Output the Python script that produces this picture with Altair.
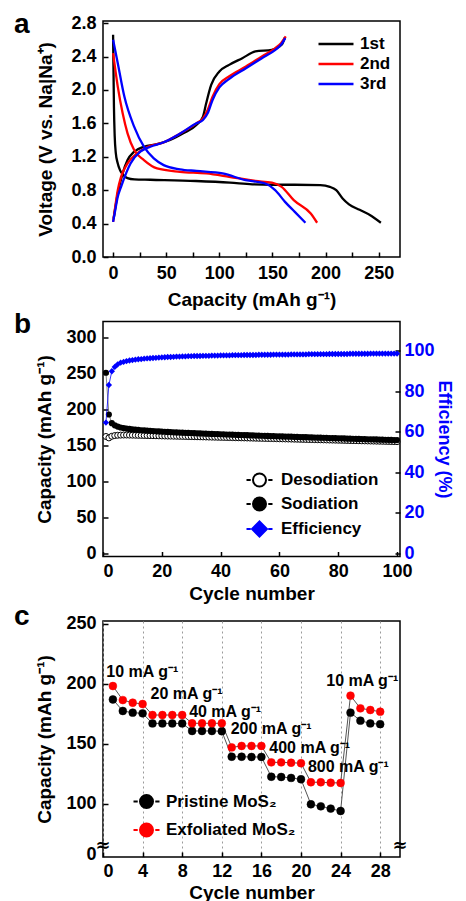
import altair as alt
import pandas as pd

FONT = "Liberation Sans"

# ---------------- panel a : voltage profiles ----------------
cycles_a = ["1st", "2nd", "3rd"]
colors_a = ["#000000", "#ff0000", "#0000ff"]

dis1_cap = [0, 0.3, 0.8, 1.5, 2.5, 4.4, 6.5, 9, 13.5, 20, 35, 78, 110, 131, 150, 171, 195, 204, 210, 216, 222, 232, 242, 252]
dis1_v = [2.66, 2.3, 1.8, 1.45, 1.25, 1.12, 1.04, 0.99, 0.945, 0.93, 0.925, 0.91, 0.89, 0.87, 0.865, 0.865, 0.86, 0.84, 0.8, 0.7, 0.63, 0.565, 0.5, 0.41]
cha1_cap = [0.5, 4.4, 9, 13.6, 19.8, 29, 41.4, 53.7, 66, 78.4, 84.6, 87.6, 92.3, 100, 109.2, 121.6, 133.9, 149.4, 158.6, 161.7]
cha1_v = [0.46, 0.76, 1.0, 1.16, 1.26, 1.32, 1.35, 1.4, 1.48, 1.58, 1.68, 1.84, 2.06, 2.22, 2.3, 2.38, 2.46, 2.48, 2.54, 2.63]

dis2_cap = [0, 4.4, 9, 13.6, 19.8, 29, 41.4, 62.9, 87.6, 109.2, 133.9, 149.4, 158.6, 170, 186, 192]
dis2_v = [2.44, 2.04, 1.72, 1.48, 1.28, 1.16, 1.06, 1.02, 1.0, 0.96, 0.91, 0.89, 0.84, 0.68, 0.52, 0.41]
cha2_cap = [0, 2, 4.4, 7.5, 13.6, 22.6, 35, 47, 62, 78.4, 84.6, 89, 93.6, 100, 109, 125, 140, 152.7, 158, 162.5]
cha2_v = [0.42, 0.6, 0.8, 0.96, 1.12, 1.24, 1.33, 1.37, 1.47, 1.6, 1.66, 1.76, 1.92, 2.07, 2.16, 2.28, 2.4, 2.5, 2.56, 2.64]

dis3_cap = [0, 4.4, 10.6, 19.8, 29, 38.3, 47.6, 62.9, 78.4, 103.1, 124.7, 143.2, 152.5, 161.8, 171, 181]
dis3_v = [2.6, 2.32, 1.92, 1.56, 1.32, 1.18, 1.1, 1.05, 1.03, 1.0, 0.92, 0.88, 0.8, 0.66, 0.54, 0.41]
cha3_cap = [0, 2, 4.4, 7.5, 16.4, 25.6, 35, 47, 62, 78.4, 84.6, 89, 93.6, 100, 109, 125, 140, 152.7, 158, 162]
cha3_v = [0.42, 0.56, 0.72, 0.84, 1.12, 1.26, 1.32, 1.37, 1.47, 1.6, 1.64, 1.72, 1.88, 2.03, 2.13, 2.26, 2.38, 2.48, 2.54, 2.62]

rows = []
for name, branches in [
    ("1st", [("d", dis1_cap, dis1_v), ("c", cha1_cap, cha1_v)]),
    ("2nd", [("d", dis2_cap, dis2_v), ("c", cha2_cap, cha2_v)]),
    ("3rd", [("d", dis3_cap, dis3_v), ("c", cha3_cap, cha3_v)]),
]:
    for br, caps, vs in branches:
        for i, (c, v) in enumerate(zip(caps, vs)):
            rows.append({"cycle": name, "seg": name + br, "i": i, "cap": c, "v": v})
df_a = pd.DataFrame(rows)

# ---------------- panel b : cycling ----------------
sodiation = [251, 193, 181, 178, 176.2, 175, 174.2, 173.5, 173, 172.4,
             172, 171.6, 171.2, 170.9, 170.6, 170.3, 170, 169.8, 169.5, 169.3,
             169.1, 168.8, 168.6, 168.4, 168.2, 168, 167.8, 167.6, 167.5, 167.3,
             167.1, 166.9, 166.8, 166.6, 166.4, 166.3, 166.1, 166, 165.8, 165.6,
             165.5, 165.3, 165.2, 165, 164.9, 164.7, 164.6, 164.4, 164.3, 164.1,
             164, 163.8, 163.7, 163.5, 163.4, 163.3, 163.1, 163, 162.8, 162.7,
             162.6, 162.4, 162.3, 162.2, 162, 161.9, 161.8, 161.6, 161.5, 161.4,
             161.2, 161.1, 161, 160.8, 160.7, 160.6, 160.4, 160.3, 160.2, 160,
             159.9, 159.8, 159.6, 159.5, 159.4, 159.2, 159.1, 159, 158.9, 158.7,
             158.6, 158.5, 158.4, 158.2, 158.1, 158, 157.9, 157.7, 157.6, 157.5]
desodiation = [162.5, 160.5, 162.8, 163.8, 164.2, 164.4, 164.5, 164.5, 164.4, 164.3,
               164.2, 164.1, 164, 163.9, 163.8, 163.7, 163.6, 163.5, 163.4, 163.3,
               163.2, 163.1, 163, 162.9, 162.8, 162.7, 162.6, 162.5, 162.4, 162.3,
               162.2, 162.1, 162, 161.9, 161.8, 161.7, 161.6, 161.5, 161.4, 161.3,
               161.2, 161.1, 161, 160.9, 160.8, 160.7, 160.6, 160.5, 160.4, 160.3,
               160.2, 160.1, 160, 159.9, 159.8, 159.7, 159.6, 159.5, 159.4, 159.3,
               159.2, 159.1, 159, 158.9, 158.8, 158.7, 158.6, 158.5, 158.4, 158.3,
               158.2, 158.1, 158, 157.9, 157.8, 157.7, 157.6, 157.5, 157.4, 157.3,
               157.2, 157.1, 157, 156.9, 156.8, 156.7, 156.6, 156.5, 156.4, 156.3,
               156.2, 156.1, 156, 155.9, 155.8, 155.7, 155.6, 155.5, 155.4, 155.3]
efficiency = [64.5, 83, 89.8, 91.9, 93.2, 94, 94.4, 94.8, 95.1, 95.3,
              95.5, 95.7, 95.8, 96, 96.1, 96.2, 96.3, 96.4, 96.5, 96.6,
              96.7, 96.8, 96.8, 96.9, 97, 97, 97.1, 97.1, 97.2, 97.2,
              97.3, 97.3, 97.3, 97.4, 97.4, 97.4, 97.5, 97.5, 97.5, 97.6,
              97.6, 97.6, 97.6, 97.7, 97.7, 97.7, 97.7, 97.8, 97.8, 97.8,
              97.8, 97.8, 97.9, 97.9, 97.9, 97.9, 97.9, 98, 98, 98,
              98, 98, 98, 98.1, 98.1, 98.1, 98.1, 98.1, 98.1, 98.2,
              98.2, 98.2, 98.2, 98.2, 98.2, 98.2, 98.3, 98.3, 98.3, 98.3,
              98.3, 98.3, 98.3, 98.4, 98.4, 98.4, 98.4, 98.4, 98.4, 98.4,
              98.5, 98.5, 98.5, 98.5, 98.5, 98.5, 98.5, 98.5, 98.5, 98.5]
cycle_b = list(range(1, 101))
df_b = pd.DataFrame({"cycle": cycle_b, "sod": sodiation, "des": desodiation, "eff": efficiency})
series_b = ["Desodiation", "Sodiation", "Efficiency"]

# ---------------- panel c : rate ----------------
cycle_c = list(range(1, 29))
pristine = [187, 177.4, 176, 175.4, 167, 167, 167, 167, 160.7, 160.7, 160.7, 160.5,
            139.2, 139.2, 139, 139, 122.5, 122.3, 121.5, 120.4, 99.5, 97.8, 95.9, 93.9,
            176, 169.3, 167, 166.4]
exfoliated = [198.2, 186.5, 184.3, 183.2, 174, 174, 174, 174, 167.1, 167.1, 167.1, 167.1,
              147, 148.2, 148.2, 148.2, 134.5, 134.5, 134.2, 133.8, 117.9, 117.9, 117.5, 117.3,
              190.2, 179.6, 178.2, 176.8]
series_c = ["Pristine MoS\u2082", "Exfoliated MoS\u2082"]
df_c = pd.DataFrame({
    "cycle": cycle_c * 2,
    "cap": pristine + exfoliated,
    "s": [series_c[0]] * 28 + [series_c[1]] * 28,
})
ann_text = ["10 mA g\u207b\u00b9", "20 mA g\u207b\u00b9", "40 mA g\u207b\u00b9", "200 mA g\u207b\u00b9",
            "400 mA g\u207b\u00b9", "800 mA g\u207b\u00b9", "10 mA g\u207b\u00b9"]
ann_cycle = [0.33, 4.8, 8.7, 12.9, 16.8, 20.7, 22.55]
ann_cap = [210.2, 191.6, 176.8, 162.3, 146.2, 130.9, 202.7]
df_ann = pd.DataFrame({"t": ann_text, "x": ann_cycle, "y": ann_cap})
brk_x = [0, 30]
brk_y = [65, 65]
df_brk = pd.DataFrame({"x": brk_x, "y": brk_y, "t": ["\u2248", "\u2248"]})

# ---------------- common styling ----------------
TICK_IN = alt.ExprRef(expr="-5")


def ax(**kw):
    base = dict(labelFont=FONT, labelFontSize=18, labelFontWeight="bold", labelColor="black",
                titleFont=FONT, titleFontSize=19, titleFontWeight="bold", titleColor="black",
                domain=False, tickColor="black", tickWidth=1.5, tickSize=TICK_IN,
                labelPadding=12, grid=False)
    base.update(kw)
    return alt.Axis(**base)


def letter(t, dy):
    return alt.Chart(pd.DataFrame({"t": [t]})).mark_text(
        align="left", baseline="alphabetic", font=FONT, fontSize=28, fontWeight="bold", color="black"
    ).encode(text="t:N", x=alt.value(-89), y=alt.value(dy))


LEG = dict(orient="none", title=None, labelFont=FONT, labelFontSize=17, labelFontWeight="bold",
           labelColor="black", padding=0, symbolOpacity=1)

W = 297

# ---------------- build panel a ----------------
xa = alt.X("cap:Q", scale=alt.Scale(domain=[-9.5, 270], nice=False, zero=False),
           axis=ax(title="Capacity (mAh g\u207b\u00b9)", values=list(range(0, 251, 25)),
                   labelExpr="datum.value % 50 == 0 ? datum.label : ''", titlePadding=8))
ya = alt.Y("v:Q", scale=alt.Scale(domain=[0, 2.825], nice=False),
           axis=ax(title="Voltage (V vs. Na|Na\u207a)", values=[0, 0.4, 0.8, 1.2, 1.6, 2.0, 2.4, 2.8],
                   format=".1f", titlePadding=15))
lines_a = alt.Chart(df_a).mark_line(strokeWidth=2.3, interpolate="monotone").encode(
    x=xa, y=ya,
    color=alt.Color("cycle:N", scale=alt.Scale(domain=cycles_a, range=colors_a),
                    legend=alt.Legend(symbolType="M-2,0H2", symbolSize=306, symbolStrokeWidth=2.5,
                                      legendX=223, legendY=13, labelOffset=14, rowPadding=2, **LEG)),
    detail="seg:N", order="i:Q",
)
panel_a = alt.layer(lines_a, letter("a", 12)).properties(width=W, height=236)

# ---------------- build panel b ----------------
xb = alt.X("cycle:Q", scale=alt.Scale(domain=[0, 101], nice=False),
           axis=ax(title="Cycle number", values=[0, 20, 40, 60, 80, 100], labelPadding=11, titlePadding=4))
yb_left_axis = ax(title="Capacity (mAh g\u207b\u00b9)", values=[0, 50, 100, 150, 200, 250, 300], orient="left",
                  titlePadding=11)
yb_scale = alt.Scale(domain=[-4.2, 322.2], nice=False, zero=False)
base_b = alt.Chart(df_b)
des_line = base_b.mark_line(color="#666666", strokeWidth=0.8).encode(
    x=xb, y=alt.Y("des:Q", scale=yb_scale, axis=yb_left_axis))
sod_line = base_b.mark_line(color="#666666", strokeWidth=0.8).encode(
    x=xb, y=alt.Y("sod:Q", scale=yb_scale, axis=yb_left_axis))
des_pts = base_b.mark_point(shape="circle", filled=False, fill="white", stroke="black", strokeWidth=1,
                            size=36, opacity=1).encode(
    x=xb, y=alt.Y("des:Q", scale=yb_scale, axis=yb_left_axis))
sod_pts = base_b.mark_point(shape="circle", filled=True, color="black", size=38, opacity=1).encode(
    x=xb, y=alt.Y("sod:Q", scale=yb_scale, axis=yb_left_axis))

# legend glyphs "-O-", "-●-", "-◆-" : dash, symbol, dash
p_circ = ("M-2,0H-1.35M1.35,0H2M-1,0C-1,-0.552,-0.552,-1,0,-1C0.552,-1,1,-0.552,1,0"
          "C1,0.552,0.552,1,0,1C-0.552,1,-1,0.552,-1,0Z")
p_diam = "M-2,0H-1.35M1.35,0H2M0,-1.15L1.15,0L0,1.15L-1.15,0Z"
df_leg_b = pd.DataFrame({"s": series_b, "cycle": [1, 1, 1], "des": [0, 0, 0]})
leg_b = alt.Chart(df_leg_b).mark_point(filled=False, strokeWidth=2, size=169, opacity=1).encode(
    x=xb, y=alt.Y("des:Q", scale=yb_scale, axis=yb_left_axis),
    shape=alt.Shape("s:N", scale=alt.Scale(domain=series_b, range=[p_circ, p_circ, p_diam]),
                    legend=alt.Legend(symbolSize=169, symbolStrokeWidth=2, legendX=148, legendY=150,
                                      labelOffset=13, rowPadding=3, **LEG)),
    fill=alt.Fill("s:N", scale=alt.Scale(domain=series_b, range=["white", "black", "#0000ff"]), legend=None),
    stroke=alt.Stroke("s:N", scale=alt.Scale(domain=series_b, range=["black", "black", "#0000ff"]), legend=None),
).transform_filter("false")

left_b = alt.layer(des_line, sod_line, des_pts, sod_pts, leg_b, letter("b", 11.5))

yb_right = alt.Y("eff:Q", scale=alt.Scale(domain=[-1.5, 114.3], nice=False, zero=False),
                 axis=ax(title="Efficiency (%)", orient="right", values=[0, 20, 40, 60, 80, 100],
                         labelColor="#0000ff", titleColor="#0000ff", titleFontSize=18,
                         labelPadding=9, titlePadding=0))
eff_line = base_b.mark_line(color="#0000ff", strokeWidth=0.8).encode(x=xb, y=yb_right)
eff_pts = base_b.mark_point(shape="diamond", filled=True, color="#0000ff", size=40, opacity=1).encode(
    x=xb, y=yb_right)
right_b = alt.layer(eff_line, eff_pts)
panel_b = alt.layer(left_b, right_b).resolve_scale(y="independent").properties(width=W, height=235)

# ---------------- build panel c ----------------
xc = alt.X("cycle:Q", scale=alt.Scale(domain=[0, 30], nice=False),
           axis=ax(title="Cycle number", values=[0, 4, 8, 12, 16, 20, 24, 28], grid=True,
                   gridDash=[2, 3], gridColor="#9a9a9a", gridWidth=1, labelPadding=10, titlePadding=3))
yc_scale = alt.Scale(domain=[55.5, 252.5], nice=False, zero=False)
yc_axis = ax(title="Capacity (mAh g\u207b\u00b9)", values=[57.2, 100, 150, 200, 250],
             labelExpr="datum.value < 60 ? '0' : datum.label",
             tickOpacity={"condition": {"test": "datum.value < 60", "value": 0}, "value": 1},
             titlePadding=11)
base_c = alt.Chart(df_c)
lines_c = base_c.mark_line(color="#555555", strokeWidth=1).encode(
    x=xc, y=alt.Y("cap:Q", scale=yc_scale, axis=yc_axis), detail="s:N")
leg_c = alt.Legend(symbolType=p_circ, symbolSize=169, symbolStrokeWidth=2,
                   legendX=35, legendY=172, labelOffset=11, rowPadding=7.5, **LEG)
pts_c = base_c.mark_point(shape="circle", filled=True, size=62, opacity=1, strokeWidth=0.5).encode(
    x=xc, y=alt.Y("cap:Q", scale=yc_scale, axis=yc_axis),
    fill=alt.Fill("s:N", scale=alt.Scale(domain=series_c, range=["black", "#ff0000"]), legend=leg_c),
    stroke=alt.Stroke("s:N", scale=alt.Scale(domain=series_c, range=["black", "#ff0000"]), legend=leg_c),
)
ann_c = alt.Chart(df_ann).mark_text(align="left", baseline="middle", font=FONT, fontSize=16,
                                    fontWeight="bold", color="black").encode(
    x=alt.X("x:Q", scale=alt.Scale(domain=[0, 30], nice=False)),
    y=alt.Y("y:Q", scale=yc_scale), text="t:N")
brk_c = alt.Chart(df_brk).mark_text(align="center", baseline="middle", fontSize=18, fontWeight="bold",
                                    color="black", font="DejaVu Sans").encode(
    x=alt.X("x:Q", scale=alt.Scale(domain=[0, 30], nice=False)),
    y=alt.Y("y:Q", scale=yc_scale), text="t:N")
panel_c = alt.layer(lines_c, pts_c, ann_c, brk_c, letter("c", 4)).properties(width=W, height=236)

chart = alt.vconcat(panel_a, panel_b, panel_c, spacing=64.5, bounds="flush").resolve_scale(
    color="independent", fill="independent", stroke="independent", shape="independent"
).resolve_legend(
    color="independent", fill="independent", stroke="independent", shape="independent"
).configure_view(stroke="black", strokeWidth=1.5).properties(
    padding={"left": 5, "top": 2, "right": 0, "bottom": 0}, background="white")

chart.save("out.html", embed_options={"renderer": "svg", "actions": False})
